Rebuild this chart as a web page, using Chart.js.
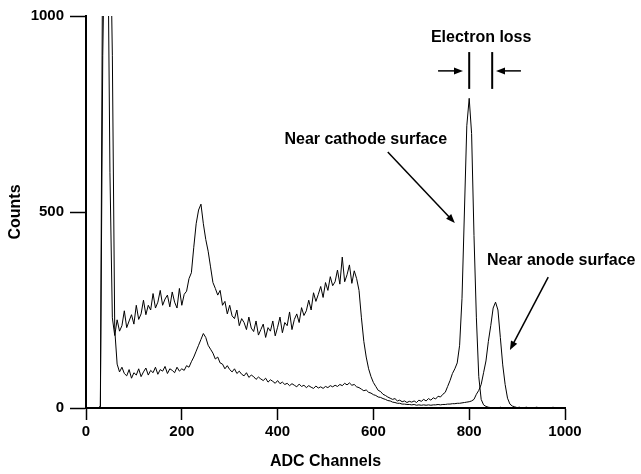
<!DOCTYPE html>
<html>
<head>
<meta charset="utf-8">
<script src="https://cdn.jsdelivr.net/npm/chart.js@4.4.0/dist/chart.umd.min.js"></script>
<style>
  html, body { margin: 0; padding: 0; background: #fff; }
</style>
</head>
<body>
<canvas id="spectrum" width="641" height="474"></canvas>
<script>
// ADC channel of each sample (step 5)
const channels = [
  0, 5, 10, 15, 20, 25, 30, 35, 40, 45, 50, 55, 60, 65, 70, 75, 80, 85, 90, 95,
  100, 105, 110, 115, 120, 125, 130, 135, 140, 145, 150, 155, 160, 165, 170, 175, 180, 185, 190, 195,
  200, 205, 210, 215, 220, 225, 230, 235, 240, 245, 250, 255, 260, 265, 270, 275, 280, 285, 290, 295,
  300, 305, 310, 315, 320, 325, 330, 335, 340, 345, 350, 355, 360, 365, 370, 375, 380, 385, 390, 395,
  400, 405, 410, 415, 420, 425, 430, 435, 440, 445, 450, 455, 460, 465, 470, 475, 480, 485, 490, 495,
  500, 505, 510, 515, 520, 525, 530, 535, 540, 545, 550, 555, 560, 565, 570, 575, 580, 585, 590, 595,
  600, 605, 610, 615, 620, 625, 630, 635, 640, 645, 650, 655, 660, 665, 670, 675, 680, 685, 690, 695,
  700, 705, 710, 715, 720, 725, 730, 735, 740, 745, 750, 755, 760, 765, 770, 775, 780, 785, 790, 795,
  800, 805, 810, 815, 820, 825, 830, 835, 840, 845, 850, 855, 860, 865, 870, 875, 880, 885, 890, 895,
  900, 905, 910, 915, 920, 925, 930, 935, 940, 945, 950, 955, 960, 965, 970, 975, 980, 985, 990, 995,
  1000
];

// spectrum measured near the cathode surface (upper curve, peak at ~800)
const cathodeCounts = [
  0, 0, 0, 0, 0, 0, 5, 1250, 1300, 1300, 600, 230, 185, 225, 196, 210, 248, 205, 222, 238,
  214, 262, 226, 240, 275, 238, 262, 250, 292, 255, 270, 300, 262, 278, 288, 258, 296, 270, 255, 305,
  262, 290, 298, 330, 345, 410, 470, 505, 520, 470, 430, 400, 360, 320, 305, 288, 300, 262, 272, 240,
  262, 235, 228, 250, 210, 228, 218, 200, 232, 204, 195, 222, 186, 200, 214, 180, 205, 196, 222, 184,
  206, 232, 192, 218, 210, 245, 200, 226, 240, 218, 256, 236, 248, 275, 250, 294, 272, 290, 310, 282,
  320, 300, 335, 312, 322, 352, 316, 385, 322, 340, 365, 318, 350, 330, 300, 230, 170, 130, 100, 80,
  65, 55, 45, 42, 35, 32, 28, 25, 22, 24, 18, 20, 16, 18, 14, 17, 15, 18, 14, 20,
  17, 22, 18, 24, 20, 26, 23, 30, 28, 35, 40, 55, 70, 88, 100, 115, 160, 280, 500, 720,
  790, 700, 440, 230, 80, 22, 8, 4, 2, 1, 0, 1, 0, 2, 0, 1, 0, 0, 1, 0,
  0, 1, 0, 0, 1, 0, 0, 1, 0, 0, 1, 0, 0, 0, 1, 0, 0, 1, 0, 0,
  0
];

// spectrum measured near the anode surface (lower curve, peak at ~855)
const anodeCounts = [
  0, 0, 0, 0, 0, 0, 0, 900, 1300, 1300, 1300, 900, 200, 112, 92, 104, 88, 82, 98, 76,
  90, 84, 100, 80, 92, 102, 84, 96, 90, 104, 86, 98, 94, 106, 88, 100, 96, 90, 104, 94,
  100, 96, 108, 104, 118, 130, 145, 160, 175, 190, 180, 160, 150, 140, 125, 130, 115, 112, 100, 108,
  98, 92, 100, 88, 94, 86, 82, 90, 78, 84, 80, 73, 79, 74, 70, 76, 66, 72, 68, 63,
  70, 62, 66, 60, 63, 57, 62, 58, 54, 61, 55, 58, 52, 57, 53, 50, 56, 51, 54, 50,
  55, 52, 57, 54, 58, 55, 60, 57, 63, 59, 64, 58, 60, 54, 52, 48, 44, 46, 40, 38,
  34, 32, 28, 27, 24, 22, 19, 18, 15, 14, 12, 12, 10, 10, 9, 9, 8, 9, 7, 8,
  7, 8, 7, 8, 7, 8, 8, 9, 8, 9, 9, 10, 10, 11, 11, 12, 12, 13, 14, 15,
  16, 18, 22, 35, 45, 60, 90, 120, 170, 210, 255, 270, 250, 180, 110, 60, 25, 10, 5, 3,
  1, 2, 0, 1, 2, 0, 1, 0, 2, 1, 0, 1, 0, 1, 0, 2, 0, 1, 0, 1,
  0
];

const xTicks = [0, 200, 400, 600, 800, 1000];
const yTicks = [0, 500, 1000];

const FONT = "'Liberation Sans', Arial, sans-serif";

// annotation anchors in data units (channel, counts)
const notes = {
  lossText: { x: 825, y: 944 },
  lossBars: [800, 848],
  lossBarTop: 908,
  lossBarBottom: 814,
  lossArrowY: 860,
  lossArrowLeft: [735, 787],
  lossArrowRight: [908, 856],
  cathodeText: { x: 754, y: 684 },
  cathodeArrow: [630, 653, 770, 472],
  anodeText: { x: 837, y: 375 },
  anodeArrow: [965, 334, 885, 148]
};

function arrow(ctx, x1, y1, x2, y2) {
  const a = Math.atan2(y2 - y1, x2 - x1);
  const len = 9, half = 3.5;
  ctx.beginPath();
  ctx.moveTo(x1, y1);
  ctx.lineTo(x2 - Math.cos(a) * len * 0.8, y2 - Math.sin(a) * len * 0.8);
  ctx.stroke();
  ctx.beginPath();
  ctx.moveTo(x2, y2);
  ctx.lineTo(x2 - Math.cos(a) * len - Math.sin(a) * half, y2 - Math.sin(a) * len + Math.cos(a) * half);
  ctx.lineTo(x2 - Math.cos(a) * len + Math.sin(a) * half, y2 - Math.sin(a) * len - Math.cos(a) * half);
  ctx.closePath();
  ctx.fill();
}

const annotations = {
  id: 'annotations',
  afterDraw(chart) {
    const { ctx } = chart;
    const xs = chart.scales.x, ys = chart.scales.y;
    const px = v => xs.getPixelForValue(v);
    const py = v => ys.getPixelForValue(v);
    ctx.save();
    ctx.fillStyle = '#000';
    ctx.strokeStyle = '#000';
    ctx.font = 'bold 16px ' + FONT;
    ctx.textBaseline = 'middle';

    // Electron loss marker
    ctx.textAlign = 'center';
    ctx.fillText('Electron loss', px(notes.lossText.x), py(notes.lossText.y));
    ctx.lineWidth = 2;
    notes.lossBars.forEach(b => {
      ctx.beginPath();
      ctx.moveTo(px(b), py(notes.lossBarTop));
      ctx.lineTo(px(b), py(notes.lossBarBottom));
      ctx.stroke();
    });
    ctx.lineWidth = 1.5;
    arrow(ctx, px(notes.lossArrowLeft[0]), py(notes.lossArrowY), px(notes.lossArrowLeft[1]), py(notes.lossArrowY));
    arrow(ctx, px(notes.lossArrowRight[0]), py(notes.lossArrowY), px(notes.lossArrowRight[1]), py(notes.lossArrowY));

    // Near cathode surface
    ctx.textAlign = 'right';
    ctx.fillText('Near cathode surface', px(notes.cathodeText.x), py(notes.cathodeText.y));
    const c = notes.cathodeArrow;
    arrow(ctx, px(c[0]), py(c[1]), px(c[2]), py(c[3]));

    // Near anode surface
    ctx.textAlign = 'left';
    ctx.fillText('Near anode surface', px(notes.anodeText.x), py(notes.anodeText.y));
    const a = notes.anodeArrow;
    arrow(ctx, px(a[0]), py(a[1]), px(a[2]), py(a[3]));
    ctx.restore();
  }
};

const toPoints = counts => channels.map((ch, i) => ({ x: ch, y: counts[i] }));

new Chart(document.getElementById('spectrum'), {
  type: 'line',
  data: {
    datasets: [
      {
        label: 'Near cathode surface',
        data: toPoints(cathodeCounts),
        borderColor: '#000',
        borderWidth: 1,
        pointRadius: 0,
        tension: 0
      },
      {
        label: 'Near anode surface',
        data: toPoints(anodeCounts),
        borderColor: '#000',
        borderWidth: 1,
        pointRadius: 0,
        tension: 0
      }
    ]
  },
  options: {
    responsive: false,
    animation: false,
    layout: { padding: { left: 0, right: 76, top: 16, bottom: 0 } },
    plugins: {
      legend: { display: false },
      tooltip: { enabled: false }
    },
    scales: {
      x: {
        type: 'linear',
        min: 0,
        max: 1000,
        afterBuildTicks: s => { s.ticks = xTicks.map(v => ({ value: v })); },
        afterFit: s => { s.height = 66; },
        grid: { drawOnChartArea: false, tickLength: 12, tickWidth: 1.5, tickColor: '#000' },
        border: { color: '#000', width: 2 },
        ticks: {
          color: '#000', padding: 3, maxRotation: 0,
          callback: v => String(v),
          font: { family: FONT, size: 15, weight: 'bold' }
        },
        title: {
          display: true,
          text: 'ADC Channels',
          color: '#000',
          padding: { top: 4, bottom: 3 },
          font: { family: FONT, size: 16, weight: 'bold' }
        }
      },
      y: {
        type: 'linear',
        min: 0,
        max: 1000,
        afterBuildTicks: s => { s.ticks = yTicks.map(v => ({ value: v })); },
        afterFit: s => { s.width = 86; },
        grid: { drawOnChartArea: false, tickLength: 16, tickWidth: 1.5, tickColor: '#000' },
        border: { color: '#000', width: 2 },
        ticks: {
          color: '#000', padding: 6,
          callback: v => String(v),
          font: { family: FONT, size: 15, weight: 'bold' }
        },
        title: {
          display: true,
          text: 'Counts',
          color: '#000',
          padding: { top: 6, bottom: 4 },
          font: { family: FONT, size: 16, weight: 'bold' }
        }
      }
    }
  },
  plugins: [annotations]
});
</script>
</body>
</html>
